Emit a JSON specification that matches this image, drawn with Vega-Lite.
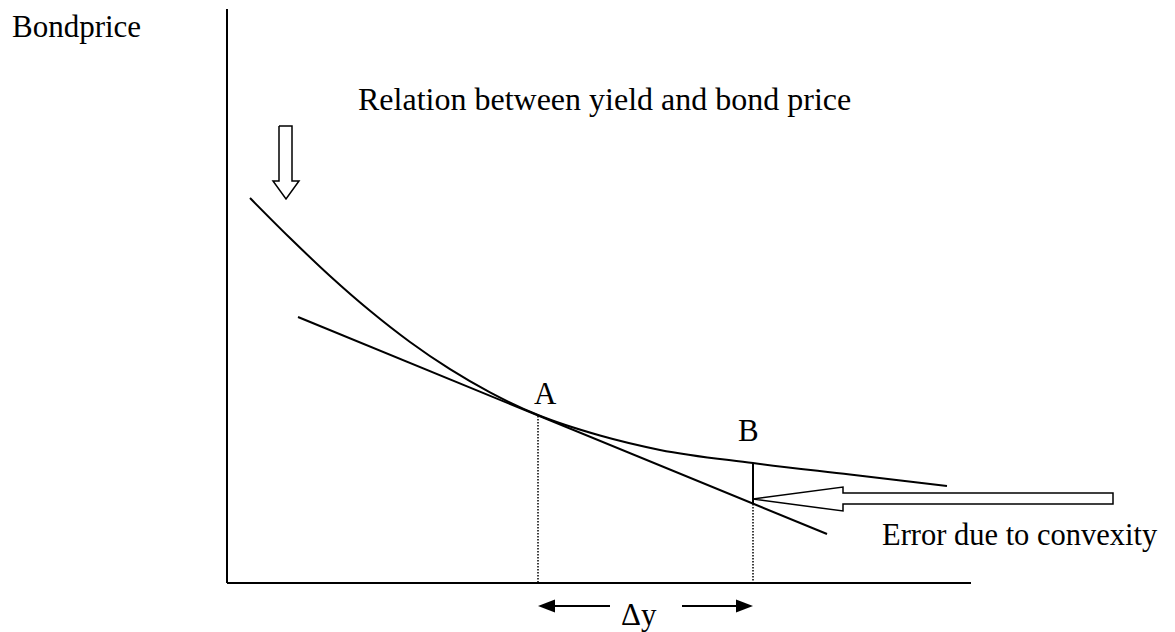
{
  "$schema": "https://vega.github.io/schema/vega-lite/v6.json",
  "width": 1175,
  "height": 632,
  "autosize": {"type": "fit", "contains": "padding"},
  "padding": 0,
  "background": "white",
  "config": {"view": {"stroke": null}},
  "datasets": {
    "axes": [
      {"g": "v", "o": 0, "x": 227, "y": 9},
      {"g": "v", "o": 1, "x": 227, "y": 583},
      {"g": "h", "o": 0, "x": 227, "y": 583},
      {"g": "h", "o": 1, "x": 971, "y": 583}
    ],
    "curve": [
      {"x": 250, "y": 198}, {"x": 290, "y": 238}, {"x": 330, "y": 276},
      {"x": 370, "y": 310.8}, {"x": 410, "y": 342}, {"x": 450, "y": 369.2},
      {"x": 490, "y": 392.4}, {"x": 538, "y": 415}, {"x": 600, "y": 435.5},
      {"x": 660, "y": 449.9}, {"x": 753, "y": 463}, {"x": 850, "y": 474.5},
      {"x": 947, "y": 486}
    ],
    "segments": [
      {"g": "tangent", "o": 0, "x": 298, "y": 317},
      {"g": "tangent", "o": 1, "x": 827, "y": 534},
      {"g": "error", "o": 0, "x": 753, "y": 463},
      {"g": "error", "o": 1, "x": 753, "y": 504},
      {"g": "dyleft", "o": 0, "x": 550, "y": 606},
      {"g": "dyleft", "o": 1, "x": 610, "y": 606},
      {"g": "dyright", "o": 0, "x": 682, "y": 606},
      {"g": "dyright", "o": 1, "x": 742, "y": 606}
    ],
    "dotted": [
      {"g": "a", "o": 0, "x": 538, "y": 416},
      {"g": "a", "o": 1, "x": 538, "y": 583},
      {"g": "b", "o": 0, "x": 753, "y": 504},
      {"g": "b", "o": 1, "x": 753, "y": 583}
    ],
    "hollow": [
      {"g": "down", "o": 0, "x": 279, "y": 126},
      {"g": "down", "o": 1, "x": 292, "y": 126},
      {"g": "down", "o": 2, "x": 292, "y": 181},
      {"g": "down", "o": 3, "x": 299, "y": 181},
      {"g": "down", "o": 4, "x": 286, "y": 199},
      {"g": "down", "o": 5, "x": 273, "y": 181},
      {"g": "down", "o": 6, "x": 279, "y": 181},
      {"g": "down", "o": 7, "x": 279, "y": 126},
      {"g": "left", "o": 0, "x": 753, "y": 499},
      {"g": "left", "o": 1, "x": 843, "y": 487},
      {"g": "left", "o": 2, "x": 843, "y": 493},
      {"g": "left", "o": 3, "x": 1113, "y": 493},
      {"g": "left", "o": 4, "x": 1113, "y": 504},
      {"g": "left", "o": 5, "x": 843, "y": 504},
      {"g": "left", "o": 6, "x": 843, "y": 511},
      {"g": "left", "o": 7, "x": 753, "y": 499}
    ],
    "heads": [
      {"dir": "left", "x": 546.5, "y": 606},
      {"dir": "right", "x": 744.5, "y": 606}
    ],
    "labels": [
      {"k": "m", "t": "Bondprice", "x": 12, "y": 37},
      {"k": "r", "t": "Relation between yield and bond price", "x": 358, "y": 110},
      {"k": "m", "t": "A", "x": 534, "y": 404},
      {"k": "m", "t": "B", "x": 738, "y": 441},
      {"k": "e", "t": "Error due to convexity", "x": 882, "y": 545},
      {"k": "m", "t": "Δy", "x": 621, "y": 625}
    ]
  },
  "encoding": {
    "x": {"field": "x", "type": "quantitative", "scale": {"domain": [0, 1175], "nice": false, "zero": false}, "axis": null},
    "y": {"field": "y", "type": "quantitative", "scale": {"domain": [0, 632], "nice": false, "zero": false, "reverse": true}, "axis": null}
  },
  "layer": [
    {
      "data": {"name": "axes"},
      "mark": {"type": "line", "color": "black", "strokeWidth": 2},
      "encoding": {"detail": {"field": "g"}, "order": {"field": "o"}}
    },
    {
      "data": {"name": "curve"},
      "mark": {"type": "line", "color": "black", "strokeWidth": 2, "interpolate": "monotone"},
      "encoding": {}
    },
    {
      "data": {"name": "segments"},
      "mark": {"type": "line", "color": "black", "strokeWidth": 2},
      "encoding": {"detail": {"field": "g"}, "order": {"field": "o"}}
    },
    {
      "data": {"name": "dotted"},
      "mark": {"type": "line", "color": "black", "strokeWidth": 1.5, "strokeDash": [1.5, 1.5]},
      "encoding": {"detail": {"field": "g"}, "order": {"field": "o"}}
    },
    {
      "data": {"name": "hollow"},
      "mark": {"type": "line", "color": "black", "strokeWidth": 1.5, "strokeJoin": "miter"},
      "encoding": {"detail": {"field": "g"}, "order": {"field": "o"}}
    },
    {
      "data": {"name": "heads"},
      "transform": [{"filter": "datum.dir === 'left'"}],
      "mark": {"type": "point", "filled": true, "color": "black", "opacity": 1, "size": 289, "shape": "M-1,0L1,-0.76L1,0.76Z"}
    },
    {
      "data": {"name": "heads"},
      "transform": [{"filter": "datum.dir === 'right'"}],
      "mark": {"type": "point", "filled": true, "color": "black", "opacity": 1, "size": 289, "shape": "M1,0L-1,-0.76L-1,0.76Z"}
    },
    {
      "data": {"name": "labels"},
      "transform": [{"filter": "datum.k === 'm'"}],
      "mark": {"type": "text", "align": "left", "baseline": "alphabetic", "font": "Liberation Serif", "fontSize": 31, "color": "black"},
      "encoding": {"text": {"field": "t"}}
    },
    {
      "data": {"name": "labels"},
      "transform": [{"filter": "datum.k === 'r'"}],
      "mark": {"type": "text", "align": "left", "baseline": "alphabetic", "font": "Liberation Serif", "fontSize": 32, "color": "black"},
      "encoding": {"text": {"field": "t"}}
    },
    {
      "data": {"name": "labels"},
      "transform": [{"filter": "datum.k === 'e'"}],
      "mark": {"type": "text", "align": "left", "baseline": "alphabetic", "font": "Liberation Serif", "fontSize": 30.5, "color": "black"},
      "encoding": {"text": {"field": "t"}}
    }
  ]
}
